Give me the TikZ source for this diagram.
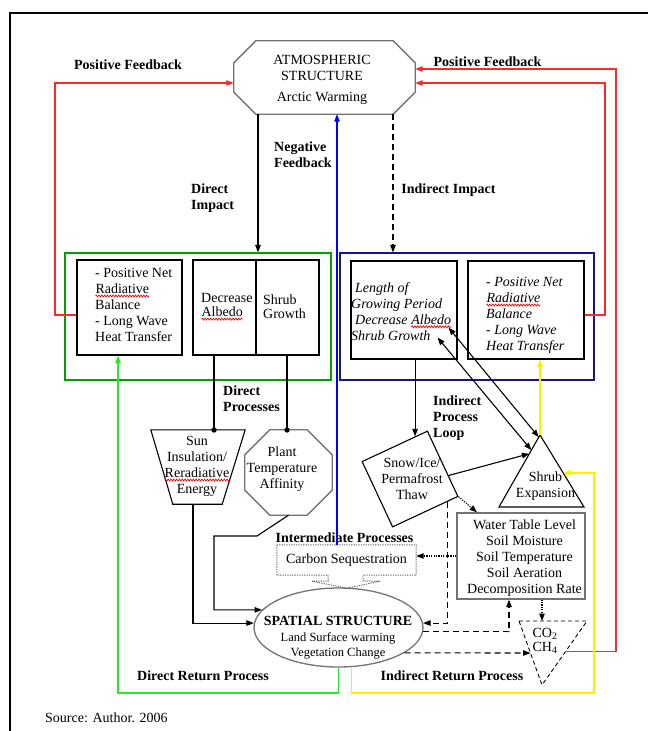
\documentclass[tikz,border=0pt]{standalone}
\usepackage{fontspec}
\setmainfont{Liberation Serif}
\usetikzlibrary{arrows.meta,calc,shapes.geometric,decorations.pathmorphing}
\definecolor{fbred}{RGB}{255,40,40}
\definecolor{boxgreen}{RGB}{0,160,0}
\definecolor{retgreen}{RGB}{40,235,40}
\definecolor{boxblue}{RGB}{20,20,150}
\definecolor{arrblue}{RGB}{0,0,255}
\definecolor{yel}{RGB}{250,240,0}
\definecolor{shapegray}{RGB}{115,115,115}
\newcommand\redsq[1]{\tikz[baseline=(sqw.base), x=1pt, y=1pt]{\node[inner sep=0pt, outer sep=0pt, anchor=base west, draw=none] (sqw) at (0,0) {#1}; \draw[red, line width=0.7pt, decorate, decoration={zigzag, amplitude=1pt, segment length=2.8pt}] ([yshift=-2.4pt]sqw.base west) -- ([yshift=-2.4pt]sqw.base east);}}
\begin{document}
\begin{tikzpicture}[x=1pt,y=-1pt, font=\fontsize{14}{16}\selectfont,
  >={Triangle[length=7.5pt,width=5.5pt]},
  conn/.style={line width=1.1pt},
  dsh/.style={dash pattern=on 6pt off 4pt},
  dtt/.style={dash pattern=on 1.2pt off 1.2pt},
  lbl/.style={font=\fontsize{14}{16}\selectfont\bfseries, inner sep=0pt, align=left},
  txt/.style={inner sep=0pt, align=center},
  ital/.style={inner sep=0pt, align=left, font=\fontsize{14}{16}\selectfont\itshape},
  blk/.style={draw, line width=1.1pt, inner sep=0pt},
  gshape/.style={draw=shapegray, line width=1.3pt},
  fbline/.style={draw=fbred, line width=1.1pt},
  retg/.style={draw=retgreen, line width=1.1pt},
  yl/.style={draw=yel, line width=1.1pt},
  holder/.style={inner sep=0pt, draw=none}]
\useasboundingbox (0,0) rectangle (648,731);
\fill[white] (0,0) rectangle (648,731);
% frame
\draw[line width=1.8pt] (10,731) -- (10,13) -- (648,13);

% atmospheric octagon
\node[holder, minimum width=181pt, minimum height=73pt] (atm) at (324.5,77.5) {};
\draw[gshape] ($(atm.north west)+(22,0)$) -- ($(atm.north east)+(-22,0)$) -- ($(atm.north east)+(0,22)$) -- ($(atm.south east)+(0,-22)$) -- ($(atm.south east)+(-22,0)$) -- ($(atm.south west)+(22,0)$) -- ($(atm.south west)+(0,-22)$) -- ($(atm.north west)+(0,22)$) -- cycle;
\node[txt] (atmtxt) at (322,79.5) {ATMOSPHERIC\\STRUCTURE\\[5pt]Arctic Warming};

% outer coloured boxes
\node[draw=boxgreen, line width=1.2pt, minimum width=266pt, minimum height=127pt, inner sep=0pt] (gb) at (198,316.5) {};
\node[draw=boxblue, line width=1.2pt, minimum width=254pt, minimum height=127pt, inner sep=0pt] (bb) at (467,316.5) {};

% inner boxes
\node[blk, minimum width=105pt, minimum height=95pt] (b1) at (129.5,307.5) {};
\node[txt, anchor=west, align=left] (b1txt) at (95,305) {- Positive Net\\\redsq{Radiative}\\Balance\\- Long Wave\\Heat Transfer};
\node[blk, minimum width=126pt, minimum height=95pt] (b2) at (256,307.5) {};
\draw[line width=1.1pt] (b2.north) -- (b2.south);
\node[txt, anchor=west, align=left] (b2a) at (201,307) {Decrease\\[-2pt]\redsq{Albedo}};
\node[txt, anchor=west, align=left] (b2b) at (263,307) {Shrub\\[-2pt]Growth};
\node[blk, minimum width=106pt, minimum height=98pt] (b3) at (404,310) {};
\node[ital, anchor=west] (b3txt) at (351,311.5) {\hspace{4pt}Length of\\Growing Period\\\hspace{4pt}Decrease \redsq{Albedo}\\Shrub Growth};
\node[blk, minimum width=116pt, minimum height=98pt] (b4) at (526,310) {};
\node[ital, anchor=west] (b4txt) at (486,315.5) {- Positive Net\\\redsq{Radiative}\\Balance\\- Long Wave\\Heat Transfer};

% sun trapezoid
\node[holder, minimum width=94pt, minimum height=74pt] (sun) at (198,467) {};
\draw[line width=1.1pt] (sun.north west) -- (sun.north east) -- ($(sun.south east)+(-23,0)$) -- ($(sun.south west)+(22,0)$) -- cycle;
\node[txt] (suntxt) at (197,466.5) {Sun\\Insulation/\\\redsq{Reradiative}\\Energy};

% plant octagon
\node[holder, minimum width=87pt, minimum height=85pt] (plant) at (288.5,472.5) {};
\draw[gshape] ($(plant.north west)+(25,0)$) -- ($(plant.north east)+(-25,0)$) -- ($(plant.north east)+(0,25)$) -- ($(plant.south east)+(0,-25)$) -- ($(plant.south east)+(-25,0)$) -- ($(plant.south west)+(25,0)$) -- ($(plant.south west)+(0,-25)$) -- ($(plant.north west)+(0,25)$) -- cycle;
\node[txt] (planttxt) at (282,469) {Plant\\Temperature\\Affinity};

% dots and direct process lines
\coordinate (d1) at (214,430);
\coordinate (d2) at (287,430);
\draw[conn] (b2.south -| d1) -- (d1);
\draw[conn] (b2.south -| d2) -- (d2);
\fill (d1) circle (2.7pt);
\fill (d2) circle (2.7pt);

% snow box
\node[draw, line width=1.1pt, minimum size=72pt, inner sep=0pt, rotate=25] (snow) at (410,479) {};
\node[txt] (snowtxt) at (412,479) {Snow/Ice/\\Permafrost\\Thaw};

% shrub expansion triangle
\coordinate (ta) at (540,435);
\coordinate (tbl) at (499,507);
\coordinate (tbr) at (584,507);
\draw[line width=1.1pt] (ta) -- (tbl) -- (tbr) -- cycle;
\node[txt] (shrubtxt) at (545.5,486) {Shrub\\Expansion};

% water table box
\node[draw=shapegray, line width=1.3pt, minimum width=128pt, minimum height=86pt, inner sep=0pt] (wt) at (521,556) {};
\node[txt] (wttxt) at (524.5,558) {Water Table Level\\Soil Moisture\\Soil Temperature\\Soil Aeration\\Decomposition Rate};

% CO2 triangle
\coordinate (ctl) at (519,621);
\coordinate (ctr) at (587,621);
\coordinate (ctip) at (542,685);
\draw[line width=0.9pt, dash pattern=on 4pt off 3pt] (ctl) -- (ctr) -- (ctip) -- cycle;
\node[txt] (co2) at (545,641) {CO\textsubscript{2}\\[-2pt]CH\textsubscript{4}};

% spatial structure ellipse
\node[ellipse, draw=shapegray, line width=1.3pt, minimum width=169pt, minimum height=79pt, inner sep=0pt] (sp) at (338.5,627.5) {};
\node[txt] (sptxt) at (338,638) {\textbf{SPATIAL STRUCTURE}\\{\fontsize{12.5}{15}\selectfont Land Surface warming}\\[-1pt]{\fontsize{12.5}{15}\selectfont Vegetation Change}};

% carbon sequestration callout
\node[holder, minimum width=139pt, minimum height=30pt] (cs) at (346.5,560) {Carbon Sequestration};
\draw[draw=gray!80!black, line width=1pt, dtt] (cs.north west) -- (cs.north east) -- (cs.south east) -- ($(cs.south)+(16.5,0)$) -- ++(0,6) -- ++(17,0) -- ($(cs.south)+(0.5,13)$) -- ($(cs.south)+(-34.5,6)$) -- ++(16,0) -- ++(0,-6) -- (cs.south west) -- cycle;

% labels
\node[lbl] (l1) at (128,65) {Positive Feedback};
\node[lbl] (l2) at (487.5,62) {Positive Feedback};
\node[lbl, anchor=west] (l3) at (274,155) {Negative\\Feedback};
\node[lbl, anchor=west] (l4) at (191,198) {Direct\\Impact};
\node[lbl] (l5) at (448.5,190) {Indirect Impact};
\node[lbl, anchor=west] (l6) at (223,399) {Direct\\Processes};
\node[lbl, anchor=west] (l7) at (433,418) {Indirect\\Process\\Loop};
\node[lbl] (l8) at (344.5,538) {Intermediate Processes};
\node[lbl] (l9) at (203,676) {Direct Return Process};
\node[lbl] (l10) at (452,676) {Indirect Return Process};
\node[txt, anchor=west] (src) at (45,718) {Source: Author. 2006};

% impacts from atmosphere
\coordinate (kx) at (258,200);
\draw[conn, ->] (atm.south -| kx) -- (gb.north -| kx);
\coordinate (dx) at (393,200);
\draw[conn, dsh, ->] (atm.south -| dx) -- (bb.north -| dx);
\coordinate (bx) at (337,300);
\draw[line width=1.1pt, draw=arrblue, ->] (cs.north -| bx) -- (atm.south -| bx);

% box3 to snow
\coordinate (snowin) at ($(snow.north west)!0.81!(snow.north east)$);
\draw[conn, ->] (b3.south -| snowin) -- (snowin);

% box3 <-> shrub expansion
\coordinate (A1) at ($(b3.south east)+(-9,-32)$);
\coordinate (A2) at ($(ta)!0.03!(tbl)$);
\draw[conn, <->] (A1) -- (A2);
\coordinate (B1) at ($(b3.south east)+(-20,-22)$);
\coordinate (B2) at ($(ta)!0.21!(tbl)$);
\draw[conn, <->] (B1) -- (B2);

% snow -> shrub
\coordinate (S1) at ($(snow.north east)!0.68!(snow.south east)$);
\coordinate (S2) at ($(ta)!0.26!(tbl)$);
\draw[conn, ->] (S1) -- (S2);

% snow -> water (dotted)
\coordinate (wq) at (477,500);
\draw[conn, dtt, ->] (snow.south east) -- (wt.north -| wq);

% snow -> spatial (dashed)
\coordinate (SB) at ($(snow.south east)!0.166!(snow.south west)$);
\draw[conn, dsh, ->] (SB) |- (sp.3);

% spatial -> water (dashed)
\coordinate (wq2) at (509,600);
\draw[conn, dsh, ->] (sp.-3) -| (wt.south -| wq2);

% spatial -> CO2 (dashed)
\coordinate (co2l) at ($(ctl)!0.5!(ctip)$);
\draw[conn, dsh, ->] (sp.-21.6) -- (co2l);

% water -> CO2 (dotted)
\draw[conn, dtt, ->] (wt.south -| ctip) -- (ctip |- ctl);
% water -> carbon sequestration (dotted)
\draw[conn, dtt, ->] (wt.west) -- (wt.west -| cs.east);

% direct processes into spatial structure
\coordinate (sx) at (193,560);
\draw[conn, ->] (sun.south -| sx) |- (sp.177);
\coordinate (p1) at (257,536);
\coordinate (p2) at (214,536);
\draw[conn, ->] (plant.south) -- (p1) -- (p2) |- (sp.167);

% positive feedbacks (red)
\coordinate (rA) at (605,83);
\draw[fbline, ->] ([yshift=-5pt]b4.east) -| (rA) -- (rA -| atm.east);
\coordinate (rB) at (616,69);
\coordinate (co2r) at ($(ctr)!0.48!(ctip)$);
\draw[fbline, ->] (co2r) -| (rB) -- (rB -| atm.east);
\coordinate (rC) at (55,83);
\draw[fbline, ->] ([yshift=-7.5pt]b1.west) -| (rC) -- (rC -| atm.west);

% return processes
\coordinate (gC) at (118,693);
\draw[retg, ->] (sp.south) |- (gC) -- (gC |- b1.south);
\coordinate (yC) at (594,693);
\coordinate (tr) at ($(ta)!0.528!(tbr)$);
\draw[yl, ->] (sp.-72.3) |- (yC) |- (tr);
\draw[yl, ->] (ta) -- (ta |- b4.south);
\end{tikzpicture}
\end{document}
